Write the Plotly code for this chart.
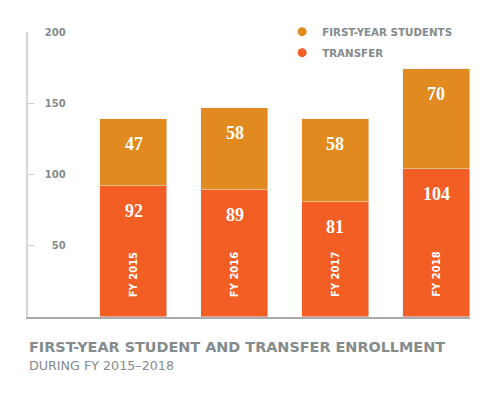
import plotly.graph_objects as go

years = ["FY 2015", "FY 2016", "FY 2017", "FY 2018"]
transfer = [92, 89, 81, 104]
first_year = [47, 58, 58, 70]
y_tick_vals = [50, 100, 150, 200]
y_tick_text = ["50", "100", "150", "200"]
series_names = ["TRANSFER", "FIRST-YEAR STUDENTS"]
title_text = "FIRST-YEAR STUDENT AND TRANSFER ENROLLMENT"
subtitle_text = "DURING FY 2015\u20132018"

C_FIRST = "#E08A1F"
C_TRANSFER = "#F25E23"
GREY = "#848B8C"
SANS = "DejaVu Sans"
SERIF = "Liberation Serif"
BAR_W = 0.665

fig = go.Figure()
fig.add_bar(x=years, y=transfer, name=series_names[0], marker_color=C_TRANSFER,
            width=BAR_W, showlegend=False, hoverinfo="skip")
fig.add_bar(x=years, y=first_year, name=series_names[1], marker_color=C_FIRST,
            width=BAR_W, showlegend=False, hoverinfo="skip")
# legend-only entries with circular symbols (first-year listed first)
for k, (name, col) in enumerate([(series_names[1], C_FIRST), (series_names[0], C_TRANSFER)]):
    fig.add_scatter(x=[None], y=[None], mode="markers", name=name, legendgroup=f"g{k}",
                    marker=dict(symbol="circle", size=9, color=col), hoverinfo="skip")

ann = []
for i, yr in enumerate(years):
    t_top = transfer[i]
    f_top = transfer[i] + first_year[i]
    ann.append(dict(x=yr, y=t_top, xref="x", yref="y", text=str(transfer[i]),
                    showarrow=False, yanchor="middle", yshift=-25,
                    font=dict(family=SERIF, size=18, color="white", weight="bold")))
    ann.append(dict(x=yr, y=f_top, xref="x", yref="y", text=str(first_year[i]),
                    showarrow=False, yanchor="middle", yshift=-25,
                    font=dict(family=SERIF, size=18, color="white", weight="bold")))
    ann.append(dict(x=yr, y=0, xref="x", yref="y", text=yr, textangle=-90,
                    showarrow=False, yanchor="bottom", yshift=18,
                    font=dict(family=SANS, size=10, color="white", weight="bold")))

ann.append(dict(x=0, y=0, xref="paper", yref="paper", text=title_text,
                showarrow=False, xanchor="left", yanchor="middle", yshift=-30, xshift=-1,
                font=dict(family=SANS, size=14.4, color=GREY, weight="bold")))
ann.append(dict(x=0, y=0, xref="paper", yref="paper", text=subtitle_text,
                showarrow=False, xanchor="left", yanchor="middle", yshift=-48, xshift=-1,
                font=dict(family=SANS, size=12.7, color=GREY)))

width_max = max(len(s) for s in y_tick_text)
padded = [s.rjust(width_max, "\u2007") for s in y_tick_text]

fig.update_layout(
    width=497, height=398,
    margin=dict(l=28, r=27, t=31.5, b=81, autoexpand=False),
    paper_bgcolor="white", plot_bgcolor="white",
    barmode="stack", bargap=0,
    showlegend=True,
    legend=dict(x=0.575, y=1.052, xanchor="left", yanchor="top",
                traceorder="grouped", tracegroupgap=2,
                font=dict(family=SANS, size=10.3, color=GREY, weight="bold"),
                bgcolor="rgba(0,0,0,0)"),
    annotations=ann,
    xaxis=dict(range=[-1.05, 3.335], showticklabels=False, ticks="",
               showgrid=False, zeroline=False, showline=True,
               linecolor="#A9ABAB", linewidth=1.5, fixedrange=True),
    yaxis=dict(range=[0, 200], tickvals=y_tick_vals, ticktext=padded,
               ticks="inside", ticklen=6, tickcolor="#CFCFCF", tickwidth=1,
               ticklabelposition="inside", ticklabelstandoff=10,
               ticklabeloverflow="allow",
               tickfont=dict(family=SANS, size=10, color=GREY, weight="bold"),
               showgrid=False, zeroline=False, showline=True,
               linecolor="#D6D6D6", linewidth=1.5, fixedrange=True),
)

fig.write_html("out.html", config={"displayModeBar": False},
               post_script="document.body.style.margin='0';")
